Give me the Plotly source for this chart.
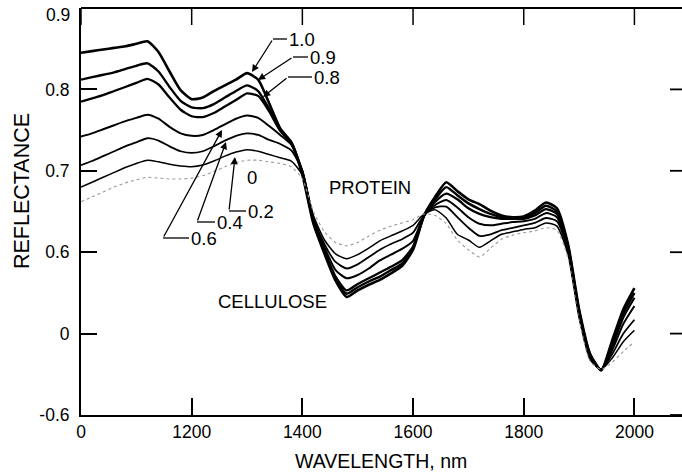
import plotly.graph_objects as go

# ---------------- data ----------------
wavelength = list(range(1000, 2001, 20))

r_10 = [0.845, 0.847, 0.849, 0.851, 0.853, 0.856, 0.859, 0.846, 0.822, 0.799,
        0.788, 0.790, 0.798, 0.805, 0.812, 0.820, 0.812, 0.783, 0.752, 0.735,
        0.695, 0.635, 0.598, 0.565, 0.545, 0.553, 0.560, 0.566, 0.574, 0.583,
        0.603, 0.645, 0.668, 0.686, 0.675, 0.665, 0.659, 0.651, 0.645, 0.643,
        0.644, 0.651, 0.661, 0.654, 0.610, 0.530, 0.475, 0.455, 0.492, 0.530,
        0.556]
r_09 = [0.812, 0.815, 0.818, 0.821, 0.825, 0.829, 0.832, 0.822, 0.803, 0.786,
        0.778, 0.777, 0.782, 0.790, 0.798, 0.805, 0.798, 0.776, 0.750, 0.735,
        0.697, 0.637, 0.600, 0.567, 0.549, 0.557, 0.564, 0.570, 0.578, 0.586,
        0.605, 0.645, 0.665, 0.680, 0.670, 0.660, 0.653, 0.647, 0.643, 0.642,
        0.642, 0.648, 0.657, 0.650, 0.608, 0.528, 0.474, 0.455, 0.488, 0.525,
        0.550]
r_08 = [0.785, 0.789, 0.793, 0.798, 0.803, 0.808, 0.813, 0.806, 0.790, 0.775,
        0.767, 0.766, 0.771, 0.779, 0.787, 0.795, 0.792, 0.773, 0.749, 0.734,
        0.698, 0.638, 0.602, 0.570, 0.553, 0.561, 0.568, 0.575, 0.582, 0.590,
        0.607, 0.645, 0.662, 0.672, 0.665, 0.654, 0.647, 0.643, 0.641, 0.641,
        0.641, 0.645, 0.653, 0.647, 0.606, 0.527, 0.473, 0.455, 0.485, 0.520,
        0.544]
r_06 = [0.742, 0.746, 0.751, 0.756, 0.761, 0.765, 0.769, 0.764, 0.754, 0.746,
        0.743, 0.744, 0.750, 0.757, 0.764, 0.768, 0.765, 0.755, 0.744, 0.732,
        0.700, 0.640, 0.606, 0.578, 0.568, 0.572, 0.580, 0.590, 0.597, 0.604,
        0.614, 0.645, 0.658, 0.664, 0.655, 0.643, 0.635, 0.633, 0.635, 0.637,
        0.638, 0.641, 0.648, 0.643, 0.603, 0.525, 0.472, 0.456, 0.480, 0.512,
        0.534]
r_04 = [0.707, 0.712, 0.718, 0.724, 0.730, 0.735, 0.740, 0.737, 0.730, 0.724,
        0.722, 0.724, 0.730, 0.737, 0.743, 0.746, 0.744, 0.738, 0.733, 0.725,
        0.700, 0.642, 0.610, 0.588, 0.580, 0.585, 0.594, 0.603, 0.610, 0.616,
        0.624, 0.646, 0.655, 0.656, 0.643, 0.630, 0.620, 0.622, 0.627, 0.630,
        0.633, 0.636, 0.642, 0.638, 0.600, 0.522, 0.470, 0.456, 0.475, 0.500,
        0.517]
r_02 = [0.680, 0.686, 0.692, 0.698, 0.704, 0.709, 0.713, 0.711, 0.708, 0.706,
        0.705, 0.707, 0.712, 0.718, 0.723, 0.726, 0.724, 0.720, 0.716, 0.712,
        0.695, 0.645, 0.615, 0.598, 0.592, 0.597, 0.605, 0.614, 0.620, 0.626,
        0.633, 0.647, 0.652, 0.642, 0.622, 0.615, 0.606, 0.614, 0.622, 0.625,
        0.628, 0.630, 0.636, 0.632, 0.597, 0.520, 0.468, 0.456, 0.470, 0.490,
        0.504]
r_00 = [0.662, 0.668, 0.674, 0.680, 0.685, 0.689, 0.692, 0.691, 0.690, 0.690,
        0.691, 0.694, 0.699, 0.705, 0.710, 0.713, 0.713, 0.711, 0.709, 0.705,
        0.690, 0.650, 0.625, 0.612, 0.608, 0.612, 0.620, 0.627, 0.632, 0.636,
        0.640, 0.647, 0.645, 0.635, 0.615, 0.603, 0.594, 0.605, 0.616, 0.621,
        0.624, 0.626, 0.630, 0.627, 0.593, 0.517, 0.466, 0.456, 0.465, 0.478,
        0.490]

fraction_labels = ["1.0", "0.9", "0.8", "0.6", "0.4", "0.2", "0"]
series = [r_10, r_09, r_08, r_06, r_04, r_02, r_00]

x_tickvals = [1000, 1200, 1400, 1600, 1800, 2000]
x_ticktext = ["0", "1200", "1400", "1600", "1800", "2000"]
y_tickvals = [0.4, 0.5, 0.6, 0.7, 0.8, 0.9]
y_ticktext = ["-0.6", "0", "0.6", "0.7", "0.8", "0.9"]

# ---------------- styling ----------------
W, H = 682, 476
ML, MR, MT, MB = 81, 0, 8, 61
XR = [1000, 2086]
YR = [0.4, 0.9]
FONT = "Liberation Sans, Arial, Helvetica, sans-serif"
PW = W - ML - MR
PH = H - MT - MB

def X(px):
    return XR[0] + (px - ML) / PW * (XR[1] - XR[0])

def Y(py):
    return YR[1] - (py - MT) / PH * (YR[1] - YR[0])

def PX(px):   # pixel -> paper x
    return (px - ML) / PW

def PY(py):   # pixel -> paper y
    return (H - MB - py) / PH

widths = [2.6, 2.4, 2.3, 2.0, 1.8, 1.5, 1.1]

fig = go.Figure()
for lab, vals, w in zip(fraction_labels, series, widths):
    line = dict(color="black", width=w, shape="spline", smoothing=0.6)
    if lab == "0":
        line = dict(color="#9a9a9a", width=w, dash="dot", shape="spline", smoothing=0.6)
    fig.add_trace(go.Scatter(x=wavelength, y=vals, mode="lines", line=line,
                             name=lab, showlegend=False, hoverinfo="skip"))

tick_font = dict(family=FONT, size=17.5, color="black")

# the top tick label sits lower in the reference (it would be clipped), so it is drawn separately
y_ticktext_axis = [t if v != YR[1] else "" for v, t in zip(y_tickvals, y_ticktext)]

fig.update_layout(
    width=W, height=H,
    margin=dict(l=ML, r=MR, t=MT, b=MB),
    paper_bgcolor="white", plot_bgcolor="white",
    font=dict(family=FONT, color="black"),
    xaxis=dict(range=XR, tickvals=x_tickvals, ticktext=x_ticktext,
               ticks="inside", ticklen=17, tickwidth=1.5, tickcolor="black",
               showline=True, linecolor="black", linewidth=2,
               showgrid=False, zeroline=False, tickfont=tick_font),
    yaxis=dict(range=YR, tickvals=y_tickvals, ticktext=y_ticktext_axis,
               ticks="inside", ticklen=16, tickwidth=1.5, tickcolor="black",
               showline=True, linecolor="black", linewidth=2,
               showgrid=False, zeroline=False, tickfont=tick_font,
               ticklabelstandoff=6),
)

# top frame line and inward ticks on top and right
fig.add_shape(type="line", xref="paper", yref="paper", x0=0, x1=1, y0=1, y1=1,
              line=dict(color="black", width=2.2))
for v in x_tickvals:
    fig.add_shape(type="line", xref="x", yref="paper", x0=v, x1=v,
                  y0=1, y1=1 - 17 / PH, line=dict(color="black", width=1.5))
for v in y_tickvals:
    yp = (v - YR[0]) / (YR[1] - YR[0])
    fig.add_shape(type="line", xref="paper", yref="paper",
                  x0=1 - 12 / PW, x1=1, y0=yp, y1=yp,
                  line=dict(color="black", width=1.8))

fig.add_annotation(xref="paper", yref="paper", x=0, y=PY(15),
                   xanchor="right", yanchor="middle", xshift=-9,
                   text=y_ticktext[-1], showarrow=False, font=tick_font)

# axis titles
fig.add_annotation(xref="paper", yref="paper", x=PX(381), y=PY(461),
                   xanchor="center", yanchor="middle",
                   text="WAVELENGTH, nm", showarrow=False,
                   font=dict(family=FONT, size=19.5, color="black"))
fig.add_annotation(xref="paper", yref="paper", x=PX(22), y=PY(191),
                   xanchor="center", yanchor="middle",
                   text="REFLECTANCE", showarrow=False, textangle=-90,
                   font=dict(family=FONT, size=21.5, color="black"))

label_font = dict(family=FONT, size=18.5, color="black")

# leaders: (label, tip px, elbow px, text-start px)
leaders = [
    ("1.0", (252, 72), (273, 39), (287, 39)),
    ("0.9", (258, 80), (293, 57), (308, 57)),
    ("0.8", (263, 97), (288, 77), (312, 77)),
    ("0.2", (235, 157), (229, 211), (246, 211)),
    ("0.4", (226, 142), (197, 222), (215, 222)),
    ("0.6", (222, 130), (163, 238), (189, 238)),
]
for lab, tip, elb, ts in leaders:
    fig.add_annotation(x=X(tip[0]), y=Y(tip[1]), ax=X(elb[0]), ay=Y(elb[1]),
                       axref="x", ayref="y", xref="x", yref="y", text="",
                       showarrow=True, arrowhead=2, arrowsize=1.1,
                       arrowwidth=1.3, arrowcolor="black", standoff=0)
    fig.add_shape(type="line", x0=X(elb[0]), y0=Y(elb[1]), x1=X(ts[0]), y1=Y(ts[1]),
                  xref="x", yref="y", line=dict(color="black", width=1.3))
    fig.add_annotation(x=X(ts[0]), y=Y(ts[1]), xref="x", yref="y", text=lab,
                       showarrow=False, xanchor="left", yanchor="middle",
                       font=label_font)

fig.add_annotation(x=X(252), y=Y(177), xref="x", yref="y", text="0",
                   showarrow=False, font=label_font)
fig.add_annotation(x=X(370), y=Y(187), xref="x", yref="y", text="PROTEIN",
                   showarrow=False, font=label_font)
fig.add_annotation(x=X(272), y=Y(301), xref="x", yref="y", text="CELLULOSE",
                   showarrow=False, font=label_font)

fig.write_html("out.html")
